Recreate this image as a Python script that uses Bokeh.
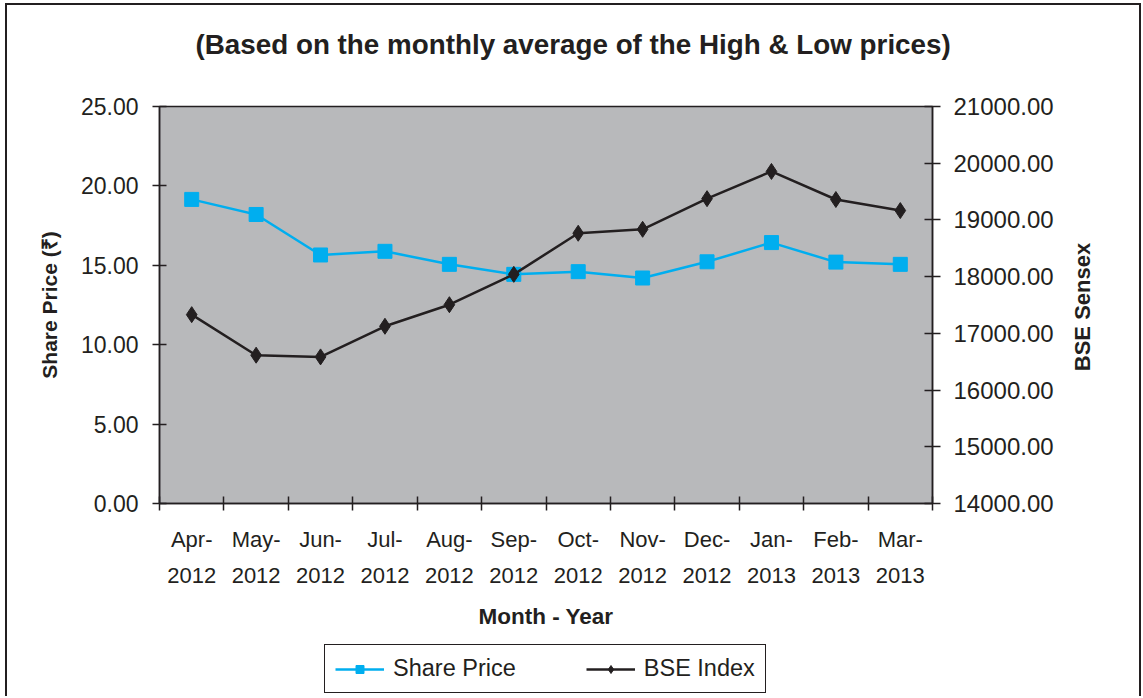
import numpy as np
from bokeh.plotting import figure
from bokeh.layouts import column, row
from bokeh.models import (Range1d, LinearAxis, FixedTicker, NumeralTickFormatter,
                          Legend, LegendItem, Label, Title)
from bokeh.embed import file_html
from bokeh.resources import INLINE

title_text = "(Based on the monthly average of the High & Low prices)"
months = ["Apr-\n2012", "May-\n2012", "Jun-\n2012", "Jul-\n2012", "Aug-\n2012", "Sep-\n2012",
          "Oct-\n2012", "Nov-\n2012", "Dec-\n2012", "Jan-\n2013", "Feb-\n2013", "Mar-\n2013"]
share_price = [19.15, 18.20, 15.65, 15.88, 15.06, 14.43, 14.60, 14.20, 15.22, 16.43, 15.20, 15.06]
bse_index = [17330, 16615, 16585, 17125, 17505, 18040, 18765, 18835, 19375, 19855, 19360, 19165]
left_ticks = [0, 5, 10, 15, 20, 25]
right_ticks = [14000, 15000, 16000, 17000, 18000, 19000, 20000, 21000]
series_names = ["Share Price", "BSE Index"]

FONT = "Liberation Sans"
INK = "#231F20"
CYAN = "#00AEEF"

n = len(months)
xc = np.arange(n) + 0.5

W = 1132          # full inner width
H_TOP = 80        # title strip
H_MAIN = 555      # chart
H_LEG = 56        # legend strip
W_RLAB = 77       # strip for the right axis title
BL, BR_FULL = 152, 207   # frame insets shared by all full-width strips
BT, BB = 21, 137


def strip(width, height, **kw):
    f = figure(width=width, height=height, output_backend="svg", toolbar_location=None,
               x_axis_location=None, y_axis_location=None,
               x_range=Range1d(0, 1), y_range=Range1d(0, 1),
               outline_line_color=None, background_fill_color="white",
               border_fill_color="white", **kw)
    f.grid.visible = False
    return f


# ---- title strip (title lives in the side panel, so it is not clipped)
pt = strip(W, H_TOP, min_border_left=BL, min_border_right=BR_FULL,
           min_border_top=0, min_border_bottom=0)
pt.title = Title(text=title_text, align="left", offset=36, standoff=42,
                 text_font=FONT, text_font_size="27.8px", text_font_style="bold",
                 text_color=INK)

# ---- main chart
p = figure(width=W - W_RLAB, height=H_MAIN, output_backend="svg", toolbar_location=None,
           x_range=Range1d(0, n), y_range=Range1d(left_ticks[0], left_ticks[-1]),
           min_border_left=BL, min_border_right=BR_FULL - W_RLAB,
           min_border_top=BT, min_border_bottom=BB,
           background_fill_color="#B8B9BB", border_fill_color="white",
           outline_line_color=INK, outline_line_width=1.5)
p.grid.visible = False
p.extra_y_ranges = {"bse": Range1d(right_ticks[0], right_ticks[-1])}

xa = p.xaxis[0]
xa.ticker = FixedTicker(ticks=list(xc), minor_ticks=list(range(n + 1)))
xa.major_label_overrides = {float(x): m for x, m in zip(xc, months)}
xa.major_tick_in = 0
xa.major_tick_out = 0
xa.minor_tick_in = 7
xa.minor_tick_out = 7
xa.minor_tick_line_color = INK
xa.minor_tick_line_width = 1.5
xa.axis_line_color = INK
xa.axis_line_width = 1.5
xa.major_label_text_font = FONT
xa.major_label_text_font_size = "22px"
xa.major_label_text_color = INK
xa.major_label_text_line_height = 1.45
xa.major_label_standoff = 16
xa.axis_label = "Month - Year"
xa.axis_label_text_font = FONT
xa.axis_label_text_font_size = "22.5px"
xa.axis_label_text_font_style = "bold"
xa.axis_label_text_color = INK
xa.axis_label_standoff = 13

ya = p.yaxis[0]
ya.ticker = FixedTicker(ticks=left_ticks)
ya.formatter = NumeralTickFormatter(format="0.00")
ya.major_tick_in = 7
ya.major_tick_out = 7
ya.minor_tick_line_color = None
ya.major_tick_line_color = INK
ya.major_tick_line_width = 1.5
ya.axis_line_color = INK
ya.axis_line_width = 1.5
ya.major_label_text_font = FONT
ya.major_label_text_font_size = "23px"
ya.major_label_text_color = INK
ya.major_label_standoff = 14
ya.axis_label = "Share Price (₹)"
ya.axis_label_text_font = FONT
ya.axis_label_text_font_size = "21px"
ya.axis_label_text_font_style = "bold"
ya.axis_label_text_color = INK
ya.axis_label_standoff = 17

ra = LinearAxis(y_range_name="bse", ticker=FixedTicker(ticks=right_ticks),
                formatter=NumeralTickFormatter(format="0.00"))
ra.major_tick_in = 8
ra.major_tick_out = 8
ra.minor_tick_line_color = None
ra.major_tick_line_color = INK
ra.major_tick_line_width = 1.5
ra.axis_line_color = INK
ra.axis_line_width = 1.5
ra.major_label_text_font = FONT
ra.major_label_text_font_size = "24px"
ra.major_label_text_color = INK
ra.major_label_standoff = 13
p.add_layout(ra, "right")

p.line(xc, share_price, line_color=CYAN, line_width=2.5)
p.scatter(xc, share_price, marker="square", size=14, fill_color=CYAN, line_color=CYAN)
p.line(xc, bse_index, y_range_name="bse", line_color=INK, line_width=2.5)
p.scatter(xc, bse_index, y_range_name="bse", marker="diamond", size=16,
          fill_color=INK, line_color=INK)

# ---- right axis title strip (reads bottom-to-top, centred on the plot frame)
pr = strip(W_RLAB, H_MAIN, min_border_left=0, min_border_right=0,
           min_border_top=BT, min_border_bottom=BB)
pr.add_layout(Label(x=20, y=196.5, x_units="screen", y_units="screen", text="BSE Sensex",
                    angle=np.pi / 2, text_font=FONT, text_font_size="22px",
                    text_font_style="bold", text_color=INK, text_align="center",
                    text_baseline="middle"))

# ---- legend strip; proxies reuse the data but lie outside this strip's view
pl = figure(width=W, height=H_LEG, output_backend="svg", toolbar_location=None,
            x_axis_location=None, y_axis_location=None,
            x_range=Range1d(0, n), y_range=Range1d(-2, -1),
            min_border_left=BL, min_border_right=BR_FULL, min_border_top=0, min_border_bottom=0,
            outline_line_color=None, background_fill_color="white", border_fill_color="white")
pl.grid.visible = False
lg1 = pl.line(xc, share_price, line_color=CYAN, line_width=2.5)
sg1 = pl.scatter(xc, share_price, marker="square", size=14, fill_color=CYAN, line_color=CYAN)
lg2 = pl.line(xc, bse_index, line_color=INK, line_width=2.5)
sg2 = pl.scatter(xc, bse_index, marker="diamond", size=16, fill_color=INK, line_color=INK)

legend = Legend(items=[LegendItem(label=series_names[0], renderers=[lg1, sg1]),
                       LegendItem(label=series_names[1], renderers=[lg2, sg2])],
                orientation="horizontal", location=(165, 3),
                padding=10, spacing=70, label_standoff=9, glyph_width=49, glyph_height=20,
                label_text_font=FONT, label_text_font_size="23.5px", label_text_color=INK,
                border_line_color=INK, border_line_width=1.5, border_line_alpha=1.0,
                background_fill_color="white", background_fill_alpha=1.0, margin=0)
pl.add_layout(legend, "center")

layout = column(pt, row(p, pr, spacing=0), pl, spacing=0)
layout.styles = {"border": "2px solid #231F20", "border-bottom": "none",
                 "margin": "3px 0 0 5px", "background": "white"}

open("out.html", "w").write(file_html(layout, INLINE))
